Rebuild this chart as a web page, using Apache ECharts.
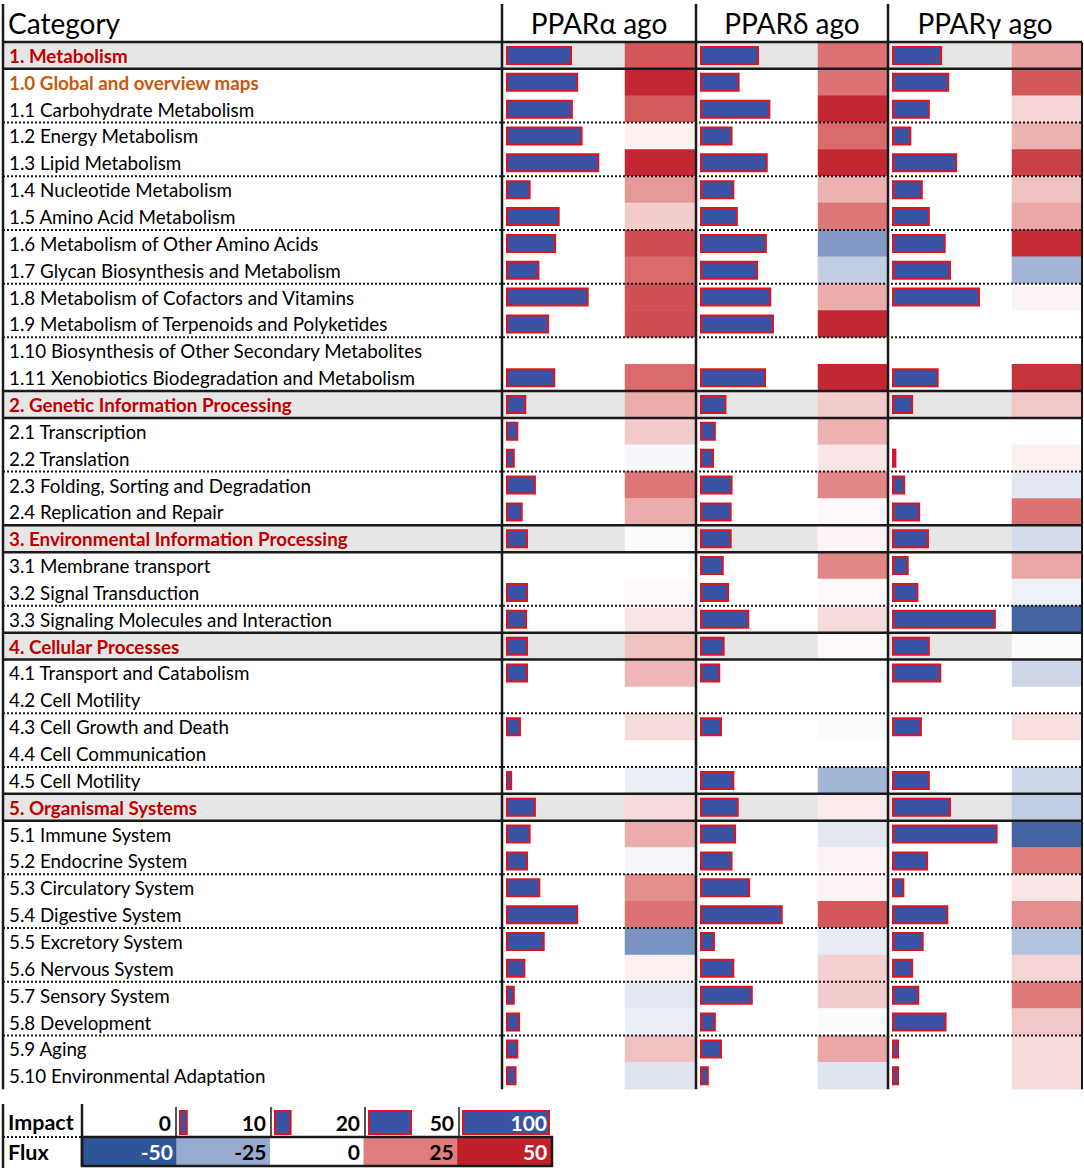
<!DOCTYPE html>
<html><head><meta charset="utf-8">
<script src="https://cdn.jsdelivr.net/npm/echarts@6/dist/echarts.min.js"></script>
<style>html,body{margin:0;padding:0;background:#fff}#c{width:1084px;height:1171px}</style>
</head><body><div id="c"></div>
<script>
const categories = [
'1. Metabolism','1.0 Global and overview maps','1.1 Carbohydrate Metabolism','1.2 Energy Metabolism',
'1.3 Lipid Metabolism','1.4 Nucleotide Metabolism','1.5 Amino Acid Metabolism','1.6 Metabolism of Other Amino Acids',
'1.7 Glycan Biosynthesis and Metabolism','1.8 Metabolism of Cofactors and Vitamins','1.9 Metabolism of Terpenoids and Polyketides',
'1.10 Biosynthesis of Other Secondary Metabolites','1.11 Xenobiotics Biodegradation and Metabolism',
'2. Genetic Information Processing','2.1 Transcription','2.2 Translation','2.3 Folding, Sorting and Degradation','2.4 Replication and Repair',
'3. Environmental Information Processing','3.1 Membrane transport','3.2 Signal Transduction','3.3 Signaling Molecules and Interaction',
'4. Cellular Processes','4.1 Transport and Catabolism','4.2 Cell Motility','4.3 Cell Growth and Death','4.4 Cell Communication','4.5 Cell Motility',
'5. Organismal Systems','5.1 Immune System','5.2 Endocrine System','5.3 Circulatory System','5.4 Digestive System','5.5 Excretory System',
'5.6 Nervous System','5.7 Sensory System','5.8 Development','5.9 Aging','5.10 Environmental Adaptation'
];
const compounds = ['PPARα ago','PPARδ ago','PPARγ ago'];

const impactAlpha = [75,82,76,87,106,28,61,57,38,94,49,null,56, 23,14,10,34,19, 25,null,25,24, 25,25,null,17,null,7, 34,28,25,39,82,44,22,10,16,14,12];
const impactDelta = [67,45,80,37,77,39,43,76,66,81,84,null,75, 30,18,16,37,36, 36,27,33,56, 28,23,null,25,null,39, 44,41,37,57,94,17,39,60,18,25,10];
const impactGamma = [57,65,43,22,74,35,43,61,67,100,null,null,53, 24,null,5,15,32, 42,19,30,118, 43,56,null,34,null,43, 67,120,41,14,64,36,24,31,62,8,8];

const fluxAlpha = [35,48,34,3,48,20,10,38,30,37,38,null,30, 16,10,-2,27,16, -1,null,1,5, 12,14,null,7,null,-5, 7,16,-3,22,28,-32,3,-7,-5,12,-8];
const fluxDelta = [28,28,48,30,48,15,27,-30,-15,16,48,null,48, 10,15,5,23,1, 2,23,1,7, 1,null,null,-1,null,-22, 4,-7,2,2,35,-6,9,10,-1,17,-8];
const fluxGamma = [18,35,8,15,42,12,17,47,-22,2,null,null,45, 11,null,3,-7,28, -10,17,-4,-45, -1,-12,null,6,null,-12, -15,-45,25,5,22,-18,8,26,11,7,7];

const impactLegend = [0,10,20,50,100];
const fluxLegend = [-50,-25,0,25,50];

const FONT = 'Lato';
const ROW_FS = 18.8;
const TOP = 42, ROWH = 26.85, N = categories.length, BOTTOM = TOP + ROWH * N;
const PXU = 0.88;
const isSection = c => /^\d\. /.test(c);
const isOverview = c => /^1\.0 /.test(c);
const rowBg = categories.map(c => isSection(c) ? '#e6e6e6' : 'rgba(255,255,255,0)');
const BAR_FILL = '#3a53a4', BAR_BORDER = '#e0141e';

const cols = [
  {x0: 502, barLeft: 506, heatLeft: 625, heatRight: 695, impact: impactAlpha, flux: fluxAlpha},
  {x0: 696, barLeft: 700, heatLeft: 818, heatRight: 887, impact: impactDelta, flux: fluxDelta},
  {x0: 888, barLeft: 892, heatLeft: 1012, heatRight: 1081, impact: impactGamma, flux: fluxGamma}
];

const grids = [], xAxes = [], yAxes = [], series = [], heatIdx = [];
function addGrid(g, x, y) {
  const i = grids.length;
  grids.push(g); x.gridIndex = i; y.gridIndex = i; xAxes.push(x); yAxes.push(y);
  return i;
}
const hiddenCat = (data, extra) => Object.assign({type: 'category', data, inverse: true, show: true,
  axisLine: {show: false}, axisTick: {show: false}, axisLabel: {show: false}, splitLine: {show: false}}, extra || {});

// category column
addGrid({left: 4, top: TOP, width: 497, height: ROWH * N},
  {type: 'value', show: false, min: 0, max: 1},
  hiddenCat(categories, {
    axisLabel: {show: true, inside: true, margin: 5, interval: 0,
      formatter: v => isSection(v) ? `{s|${v}}` : (isOverview(v) ? `{o|${v}}` : `{n|${v}}`),
      rich: {
        s: {color: '#c00000', fontWeight: 'bold', fontFamily: FONT, fontSize: ROW_FS},
        o: {color: '#c55a11', fontWeight: 'bold', fontFamily: FONT, fontSize: ROW_FS},
        n: {color: '#000', fontFamily: FONT, fontSize: ROW_FS}
      }},
    splitArea: {show: true, interval: 0, areaStyle: {color: rowBg}}
  }));

cols.forEach(c => {
  const gl = c.x0 + 1, gw = c.heatLeft - gl;
  const min = -(c.barLeft - gl) / PXU;
  const gi = addGrid({left: gl, top: TOP, width: gw, height: ROWH * N},
    {type: 'value', show: false, min: min, max: min + gw / PXU},
    hiddenCat(categories, {splitArea: {show: true, interval: 0, areaStyle: {color: rowBg}}}));
  series.push({type: 'bar', xAxisIndex: gi, yAxisIndex: gi, data: c.impact, barWidth: 19,
    itemStyle: {color: BAR_FILL, borderColor: BAR_BORDER, borderWidth: 2}, silent: true, z: 3});
  const hi = addGrid({left: c.heatLeft, top: TOP, width: c.heatRight - c.heatLeft, height: ROWH * N},
    {type: 'category', data: ['flux'], show: false},
    hiddenCat(categories));
  heatIdx.push(series.length);
  series.push({type: 'heatmap', xAxisIndex: hi, yAxisIndex: hi,
    data: c.flux.map((v, i) => v == null ? null : [0, i, v]).filter(Boolean),
    itemStyle: {borderWidth: 0}, emphasis: {disabled: true}, silent: true});
});

// legend: impact cells
const cellEdges = [82, 176, 271, 365, 459, 552];
impactLegend.forEach((v, k) => {
  const gi = addGrid({left: cellEdges[k] + 3, top: 1109, width: 88, height: 27},
    {type: 'value', show: false, min: 0, max: 88 / PXU},
    hiddenCat(['Impact']));
  series.push({type: 'bar', xAxisIndex: gi, yAxisIndex: gi, data: [v === 0 ? null : v], barWidth: 25,
    itemStyle: {color: BAR_FILL, borderColor: BAR_BORDER, borderWidth: 2}, silent: true});
});
// legend: flux cells
const fgi = addGrid({left: 83, top: 1138, width: 468, height: 27},
  {type: 'category', data: fluxLegend.map(String), show: false},
  hiddenCat(['Flux']));
heatIdx.push(series.length);
series.push({type: 'heatmap', xAxisIndex: fgi, yAxisIndex: fgi,
  data: fluxLegend.map((v, i) => ({value: [i, 0, v], label: {color: Math.abs(v) >= 50 ? '#fff' : '#000'}})),
  label: {show: true, position: 'insideRight', distance: 4, formatter: p => p.value[2],
    fontFamily: FONT, fontWeight: 'bold', fontSize: 21},
  emphasis: {disabled: true}, silent: true});

// graphics: table lines & header texts
const G = [];
const line = (x1, y1, x2, y2, w, dash, col) => G.push({type: 'line', z: 100, silent: true,
  shape: {x1, y1, x2, y2}, style: {stroke: col || '#1a1a1a', lineWidth: w, lineDash: dash || null}});
const text = (t, x, y, font, align, fill) => G.push({type: 'text', z: 101, silent: true,
  style: {text: t, x, y, font, fill: fill || '#000', textAlign: align, align: align,
    textVerticalAlign: 'middle', verticalAlign: 'middle'}});

[3, 502, 696, 888].forEach(x => line(x, 4, x, BOTTOM, 2.5));
line(1082, TOP, 1082, BOTTOM, 2);
line(3, TOP, 1082, TOP, 2.5);
let sub = 0;
for (let i = 0; i < N - 1; i++) {
  const y = TOP + ROWH * (i + 1);
  if (isSection(categories[i])) { sub = 0; line(3, y, 1082, y, 2.5); continue; }
  sub++;
  if (isSection(categories[i + 1])) line(3, y, 1082, y, 2.5);
  else if (sub % 2 === 0) line(3, y, 1082, y, 2, [2, 2]);
}
text('Category', 8, 23, `28px ${FONT}`, 'left');
cols.forEach((c, k) => text(compounds[k], (c.x0 + (k < 2 ? cols[k + 1].x0 : 1082)) / 2, 23, `28px ${FONT}`, 'center'));

// legend lines & texts
line(3, 1104, 3, 1168, 2.5);
line(82, 1104, 82, 1166, 2.5);
line(3, 1137, 82, 1137, 2, [2, 2]);
[176, 271, 365, 459].forEach(x => line(x, 1107, x, 1137, 1.5));
G.push({type: 'rect', z: 100, silent: true, shape: {x: 82, y: 1137, width: 470, height: 29},
  style: {fill: null, stroke: '#1a1a1a', lineWidth: 2.5}});
text('Impact', 8, 1122, `bold 21.5px ${FONT}`, 'left');
text('Flux', 8, 1152, `bold 21.5px ${FONT}`, 'left');
impactLegend.forEach((v, k) => text(String(v), cellEdges[k + 1] - 5, 1122, `bold 21px ${FONT}`, 'right', v >= 100 ? '#fff' : '#000'));

const chart = echarts.init(document.getElementById('c'), null, {renderer: 'svg'});
chart.setOption({
  animation: false,
  backgroundColor: '#fff',
  grid: grids, xAxis: xAxes, yAxis: yAxes,
  visualMap: {type: 'continuous', show: false, min: -50, max: 50, dimension: 2, seriesIndex: heatIdx,
    inRange: {color: ['#2e5597', '#97abd1', '#ffffff', '#e07d7d', '#c0202a']}},
  series: series,
  graphic: G
});
</script></body></html>
